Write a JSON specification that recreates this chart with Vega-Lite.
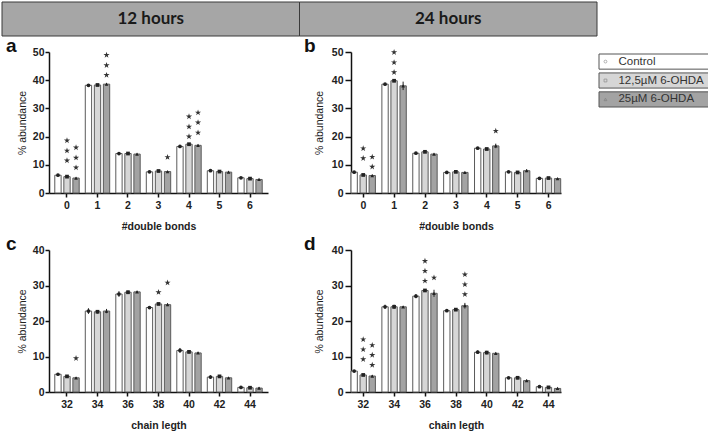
{
  "$schema": "https://vega.github.io/schema/vega-lite/v6.json",
  "padding": {"left": 1, "top": 1, "right": 0, "bottom": 0},
  "background": "white",
  "config": {
    "view": {"stroke": null},
    "font": "Liberation Sans",
    "axis": {"grid": false, "domainColor": "#111", "domainWidth": 1.5, "tickColor": "#111", "tickWidth": 1.5, "labelFont": "Liberation Sans", "labelFontWeight": "bold", "labelFontSize": 10.5, "labelColor": "#222", "titleFont": "Liberation Sans", "titleFontSize": 10.5, "titleColor": "#222", "labelOverlap": false},
    "axisX": {"labelAngle": 0, "tickSize": 4, "labelPadding": 3, "titleFontWeight": "bold", "titlePadding": 11},
    "axisY": {"tickSize": 4, "labelPadding": 1, "titleFontWeight": "normal", "titlePadding": 5},
    "title": {"font": "Liberation Sans", "fontSize": 19, "fontWeight": "bold", "color": "#111", "anchor": "start", "frame": "group", "baseline": "alphabetic", "offset": 0}
  },
  "datasets": {
    "a": [
      {"c": "0", "g": "Control", "v": 6.3, "lo": 6.1, "hi": 6.5},
      {"c": "0", "g": "12,5µM 6-OHDA", "v": 5.8, "lo": 5.6, "hi": 6.0},
      {"c": "0", "g": "25µM 6-OHDA", "v": 5.3, "lo": 5.1, "hi": 5.5},
      {"c": "1", "g": "Control", "v": 38.2, "lo": 37.9, "hi": 38.5},
      {"c": "1", "g": "12,5µM 6-OHDA", "v": 38.3, "lo": 38.0, "hi": 38.6},
      {"c": "1", "g": "25µM 6-OHDA", "v": 38.6, "lo": 38.2, "hi": 39.0},
      {"c": "2", "g": "Control", "v": 14.0, "lo": 13.8, "hi": 14.2},
      {"c": "2", "g": "12,5µM 6-OHDA", "v": 14.0, "lo": 13.7, "hi": 14.3},
      {"c": "2", "g": "25µM 6-OHDA", "v": 13.8, "lo": 13.6, "hi": 14.0},
      {"c": "3", "g": "Control", "v": 7.5, "lo": 7.3, "hi": 7.7},
      {"c": "3", "g": "12,5µM 6-OHDA", "v": 7.8, "lo": 7.5, "hi": 8.1},
      {"c": "3", "g": "25µM 6-OHDA", "v": 7.6, "lo": 7.4, "hi": 7.8},
      {"c": "4", "g": "Control", "v": 16.5, "lo": 16.2, "hi": 16.8},
      {"c": "4", "g": "12,5µM 6-OHDA", "v": 17.3, "lo": 16.9, "hi": 17.7},
      {"c": "4", "g": "25µM 6-OHDA", "v": 16.9, "lo": 16.6, "hi": 17.2},
      {"c": "5", "g": "Control", "v": 7.9, "lo": 7.6, "hi": 8.2},
      {"c": "5", "g": "12,5µM 6-OHDA", "v": 7.6, "lo": 7.3, "hi": 7.9},
      {"c": "5", "g": "25µM 6-OHDA", "v": 7.4, "lo": 7.2, "hi": 7.6},
      {"c": "6", "g": "Control", "v": 5.4, "lo": 5.1, "hi": 5.7},
      {"c": "6", "g": "12,5µM 6-OHDA", "v": 5.1, "lo": 4.9, "hi": 5.3},
      {"c": "6", "g": "25µM 6-OHDA", "v": 4.8, "lo": 4.6, "hi": 5.0}
    ],
    "sa": [
      {"c": "0", "g": "12,5µM 6-OHDA", "sy": 11.5}, {"c": "0", "g": "12,5µM 6-OHDA", "sy": 15.0}, {"c": "0", "g": "12,5µM 6-OHDA", "sy": 18.6},
      {"c": "0", "g": "25µM 6-OHDA", "sy": 9.0}, {"c": "0", "g": "25µM 6-OHDA", "sy": 12.5}, {"c": "0", "g": "25µM 6-OHDA", "sy": 16.1},
      {"c": "1", "g": "25µM 6-OHDA", "sy": 41.8}, {"c": "1", "g": "25µM 6-OHDA", "sy": 45.3}, {"c": "1", "g": "25µM 6-OHDA", "sy": 48.9},
      {"c": "3", "g": "25µM 6-OHDA", "sy": 12.7},
      {"c": "4", "g": "12,5µM 6-OHDA", "sy": 20.0}, {"c": "4", "g": "12,5µM 6-OHDA", "sy": 23.5}, {"c": "4", "g": "12,5µM 6-OHDA", "sy": 27.1},
      {"c": "4", "g": "25µM 6-OHDA", "sy": 21.4}, {"c": "4", "g": "25µM 6-OHDA", "sy": 25.0}, {"c": "4", "g": "25µM 6-OHDA", "sy": 28.5}
    ],
    "b": [
      {"c": "0", "g": "Control", "v": 7.4, "lo": 7.2, "hi": 7.6},
      {"c": "0", "g": "12,5µM 6-OHDA", "v": 6.4, "lo": 6.2, "hi": 6.6},
      {"c": "0", "g": "25µM 6-OHDA", "v": 6.2, "lo": 5.9, "hi": 6.5},
      {"c": "1", "g": "Control", "v": 38.6, "lo": 38.3, "hi": 38.9},
      {"c": "1", "g": "12,5µM 6-OHDA", "v": 39.8, "lo": 39.3, "hi": 40.3},
      {"c": "1", "g": "25µM 6-OHDA", "v": 38.0, "lo": 36.5, "hi": 39.5},
      {"c": "2", "g": "Control", "v": 14.1, "lo": 13.9, "hi": 14.3},
      {"c": "2", "g": "12,5µM 6-OHDA", "v": 14.6, "lo": 14.4, "hi": 14.8},
      {"c": "2", "g": "25µM 6-OHDA", "v": 13.8, "lo": 13.6, "hi": 14.0},
      {"c": "3", "g": "Control", "v": 7.3, "lo": 7.1, "hi": 7.5},
      {"c": "3", "g": "12,5µM 6-OHDA", "v": 7.5, "lo": 7.2, "hi": 7.8},
      {"c": "3", "g": "25µM 6-OHDA", "v": 7.3, "lo": 7.1, "hi": 7.5},
      {"c": "4", "g": "Control", "v": 15.9, "lo": 15.7, "hi": 16.1},
      {"c": "4", "g": "12,5µM 6-OHDA", "v": 15.6, "lo": 15.2, "hi": 16.0},
      {"c": "4", "g": "25µM 6-OHDA", "v": 16.7, "lo": 15.9, "hi": 17.5},
      {"c": "5", "g": "Control", "v": 7.5, "lo": 7.2, "hi": 7.8},
      {"c": "5", "g": "12,5µM 6-OHDA", "v": 7.3, "lo": 7.0, "hi": 7.6},
      {"c": "5", "g": "25µM 6-OHDA", "v": 7.9, "lo": 7.4, "hi": 8.4},
      {"c": "6", "g": "Control", "v": 5.2, "lo": 5.0, "hi": 5.4},
      {"c": "6", "g": "12,5µM 6-OHDA", "v": 5.3, "lo": 5.1, "hi": 5.5},
      {"c": "6", "g": "25µM 6-OHDA", "v": 5.1, "lo": 4.9, "hi": 5.3}
    ],
    "sb": [
      {"c": "0", "g": "12,5µM 6-OHDA", "sy": 12.3}, {"c": "0", "g": "12,5µM 6-OHDA", "sy": 15.8},
      {"c": "0", "g": "25µM 6-OHDA", "sy": 9.3}, {"c": "0", "g": "25µM 6-OHDA", "sy": 12.8},
      {"c": "1", "g": "12,5µM 6-OHDA", "sy": 42.8}, {"c": "1", "g": "12,5µM 6-OHDA", "sy": 46.3}, {"c": "1", "g": "12,5µM 6-OHDA", "sy": 49.9},
      {"c": "4", "g": "25µM 6-OHDA", "sy": 22.0}
    ],
    "c": [
      {"c": "32", "g": "Control", "v": 5.0, "lo": 4.8, "hi": 5.2},
      {"c": "32", "g": "12,5µM 6-OHDA", "v": 4.4, "lo": 4.2, "hi": 4.6},
      {"c": "32", "g": "25µM 6-OHDA", "v": 4.0, "lo": 3.8, "hi": 4.2},
      {"c": "34", "g": "Control", "v": 22.8, "lo": 22.0, "hi": 23.6},
      {"c": "34", "g": "12,5µM 6-OHDA", "v": 22.6, "lo": 22.1, "hi": 23.1},
      {"c": "34", "g": "25µM 6-OHDA", "v": 22.8, "lo": 22.2, "hi": 23.4},
      {"c": "36", "g": "Control", "v": 27.6, "lo": 26.8, "hi": 28.4},
      {"c": "36", "g": "12,5µM 6-OHDA", "v": 28.1, "lo": 27.6, "hi": 28.6},
      {"c": "36", "g": "25µM 6-OHDA", "v": 28.2, "lo": 27.9, "hi": 28.5},
      {"c": "38", "g": "Control", "v": 23.8, "lo": 23.6, "hi": 24.0},
      {"c": "38", "g": "12,5µM 6-OHDA", "v": 24.8, "lo": 24.6, "hi": 25.0},
      {"c": "38", "g": "25µM 6-OHDA", "v": 24.6, "lo": 24.2, "hi": 25.0},
      {"c": "40", "g": "Control", "v": 11.7, "lo": 11.0, "hi": 12.4},
      {"c": "40", "g": "12,5µM 6-OHDA", "v": 11.3, "lo": 10.8, "hi": 11.8},
      {"c": "40", "g": "25µM 6-OHDA", "v": 11.0, "lo": 10.7, "hi": 11.3},
      {"c": "42", "g": "Control", "v": 4.2, "lo": 3.7, "hi": 4.7},
      {"c": "42", "g": "12,5µM 6-OHDA", "v": 4.4, "lo": 4.1, "hi": 4.7},
      {"c": "42", "g": "25µM 6-OHDA", "v": 4.0, "lo": 3.8, "hi": 4.2},
      {"c": "44", "g": "Control", "v": 1.3, "lo": 1.0, "hi": 1.6},
      {"c": "44", "g": "12,5µM 6-OHDA", "v": 1.2, "lo": 0.9, "hi": 1.5},
      {"c": "44", "g": "25µM 6-OHDA", "v": 1.1, "lo": 0.8, "hi": 1.4}
    ],
    "sc": [
      {"c": "32", "g": "25µM 6-OHDA", "sy": 9.5},
      {"c": "38", "g": "12,5µM 6-OHDA", "sy": 28.1},
      {"c": "38", "g": "25µM 6-OHDA", "sy": 30.8}
    ],
    "d": [
      {"c": "32", "g": "Control", "v": 5.9, "lo": 5.7, "hi": 6.1},
      {"c": "32", "g": "12,5µM 6-OHDA", "v": 4.8, "lo": 4.6, "hi": 5.0},
      {"c": "32", "g": "25µM 6-OHDA", "v": 4.5, "lo": 4.2, "hi": 4.8},
      {"c": "34", "g": "Control", "v": 24.0, "lo": 23.4, "hi": 24.6},
      {"c": "34", "g": "12,5µM 6-OHDA", "v": 24.0, "lo": 23.4, "hi": 24.6},
      {"c": "34", "g": "25µM 6-OHDA", "v": 24.0, "lo": 23.8, "hi": 24.2},
      {"c": "36", "g": "Control", "v": 27.0, "lo": 26.4, "hi": 27.6},
      {"c": "36", "g": "12,5µM 6-OHDA", "v": 28.6, "lo": 28.2, "hi": 29.0},
      {"c": "36", "g": "25µM 6-OHDA", "v": 27.8, "lo": 26.8, "hi": 28.8},
      {"c": "38", "g": "Control", "v": 22.9, "lo": 22.7, "hi": 23.1},
      {"c": "38", "g": "12,5µM 6-OHDA", "v": 23.2, "lo": 22.8, "hi": 23.6},
      {"c": "38", "g": "25µM 6-OHDA", "v": 24.3, "lo": 23.5, "hi": 25.1},
      {"c": "40", "g": "Control", "v": 11.2, "lo": 10.7, "hi": 11.7},
      {"c": "40", "g": "12,5µM 6-OHDA", "v": 11.1, "lo": 10.6, "hi": 11.6},
      {"c": "40", "g": "25µM 6-OHDA", "v": 10.9, "lo": 10.7, "hi": 11.1},
      {"c": "42", "g": "Control", "v": 4.0, "lo": 3.7, "hi": 4.3},
      {"c": "42", "g": "12,5µM 6-OHDA", "v": 4.0, "lo": 3.6, "hi": 4.4},
      {"c": "42", "g": "25µM 6-OHDA", "v": 3.2, "lo": 2.9, "hi": 3.5},
      {"c": "44", "g": "Control", "v": 1.5, "lo": 1.2, "hi": 1.8},
      {"c": "44", "g": "12,5µM 6-OHDA", "v": 1.3, "lo": 1.0, "hi": 1.6},
      {"c": "44", "g": "25µM 6-OHDA", "v": 1.0, "lo": 0.8, "hi": 1.2}
    ],
    "sd": [
      {"c": "32", "g": "12,5µM 6-OHDA", "sy": 9.2}, {"c": "32", "g": "12,5µM 6-OHDA", "sy": 12.0}, {"c": "32", "g": "12,5µM 6-OHDA", "sy": 14.8},
      {"c": "32", "g": "25µM 6-OHDA", "sy": 7.6}, {"c": "32", "g": "25µM 6-OHDA", "sy": 10.4}, {"c": "32", "g": "25µM 6-OHDA", "sy": 13.2},
      {"c": "36", "g": "12,5µM 6-OHDA", "sy": 31.3}, {"c": "36", "g": "12,5µM 6-OHDA", "sy": 34.1}, {"c": "36", "g": "12,5µM 6-OHDA", "sy": 36.9},
      {"c": "36", "g": "25µM 6-OHDA", "sy": 32.2},
      {"c": "38", "g": "25µM 6-OHDA", "sy": 27.5}, {"c": "38", "g": "25µM 6-OHDA", "sy": 30.3}, {"c": "38", "g": "25µM 6-OHDA", "sy": 33.1}
    ],
    "hdr": [{"h": "12 hours"}, {"h": "24 hours"}],
    "leg": [{"g": "Control"}, {"g": "12,5µM 6-OHDA"}, {"g": "25µM 6-OHDA"}]
  },
  "spacing": 0,
  "vconcat": [
    {
      "width": 548, "height": 34,
      "data": {"name": "hdr"},
      "encoding": {"x": {"field": "h", "type": "nominal", "sort": null, "scale": {"range": [-47, 548], "paddingInner": 0, "paddingOuter": 0}, "axis": null}},
      "layer": [
        {"mark": {"type": "rect", "fill": "#a6a6a6", "stroke": "#3a3a3a", "strokeWidth": 1}, "encoding": {}},
        {"mark": {"type": "text", "font": "Lato", "fontWeight": "bold", "fontSize": 17, "color": "#1a1a1a"}, "encoding": {"text": {"field": "h"}}}
      ]
    },
    {
      "spacing": 3,
      "vconcat": [
        {
          "spacing": 36,
          "hconcat": [
            {
              "width": 219, "height": 141,
              "title": {"text": "a", "dx": -43, "dy": 13},
              "encoding": {
                "x": {"field": "c", "type": "ordinal", "scale": {"domain": ["0", "1", "2", "3", "4", "5", "6"], "paddingInner": 0.2, "paddingOuter": 0.19}, "axis": {"title": "#double bonds"}},
                "xOffset": {"field": "g", "type": "nominal", "scale": {"domain": ["Control", "12,5µM 6-OHDA", "25µM 6-OHDA"], "paddingInner": 0.3, "paddingOuter": 0}}
              },
              "layer": [
                {"data": {"name": "a"}, "mark": {"type": "bar", "stroke": "#5a5a5a", "strokeWidth": 1},
                 "encoding": {"y": {"field": "v", "type": "quantitative", "scale": {"domain": [0, 50]}, "axis": {"title": "% abundance", "values": [0, 10, 20, 30, 40, 50]}},
                   "fill": {"field": "g", "type": "nominal", "scale": {"domain": ["Control", "12,5µM 6-OHDA", "25µM 6-OHDA"], "range": ["#ffffff", "#d6d6d6", "#a3a3a3"]}, "legend": null}}},
                {"data": {"name": "a"}, "mark": {"type": "rule", "color": "#222", "strokeWidth": 1}, "encoding": {"y": {"field": "lo", "type": "quantitative", "axis": {"title": "% abundance", "values": [0, 10, 20, 30, 40, 50]}}, "y2": {"field": "hi"}}},
                {"data": {"name": "a"}, "mark": {"type": "point", "filled": true, "size": 14, "color": "#222", "opacity": 1},
                 "encoding": {"y": {"field": "v", "type": "quantitative", "axis": {"title": "% abundance", "values": [0, 10, 20, 30, 40, 50]}}, "shape": {"field": "g", "type": "nominal", "scale": {"domain": ["Control", "12,5µM 6-OHDA", "25µM 6-OHDA"], "range": ["circle", "square", "triangle-up"]}, "legend": null}}},
                {"data": {"name": "sa"}, "mark": {"type": "point", "filled": true, "size": 42, "color": "#333", "opacity": 1, "shape": "M0,-1L0.2245,-0.309L0.951,-0.309L0.363,0.118L0.588,0.809L0,0.382L-0.588,0.809L-0.363,0.118L-0.951,-0.309L-0.2245,-0.309Z"},
                 "encoding": {"y": {"field": "sy", "type": "quantitative", "axis": {"title": "% abundance", "values": [0, 10, 20, 30, 40, 50]}}}}
              ]
            },
            {
              "width": 210, "height": 141,
              "title": {"text": "b", "dx": -47, "dy": 13},
              "encoding": {
                "x": {"field": "c", "type": "ordinal", "scale": {"domain": ["0", "1", "2", "3", "4", "5", "6"], "paddingInner": 0.2, "paddingOuter": 0}, "axis": {"title": "#double bonds"}},
                "xOffset": {"field": "g", "type": "nominal", "scale": {"domain": ["Control", "12,5µM 6-OHDA", "25µM 6-OHDA"], "paddingInner": 0.3, "paddingOuter": 0}}
              },
              "layer": [
                {"data": {"name": "b"}, "mark": {"type": "bar", "stroke": "#5a5a5a", "strokeWidth": 1},
                 "encoding": {"y": {"field": "v", "type": "quantitative", "scale": {"domain": [0, 50]}, "axis": {"title": "% abundance", "values": [0, 10, 20, 30, 40, 50], "tickSize": 6, "labelPadding": 2, "titlePadding": 7}},
                   "fill": {"field": "g", "type": "nominal", "scale": {"domain": ["Control", "12,5µM 6-OHDA", "25µM 6-OHDA"], "range": ["#ffffff", "#d6d6d6", "#a3a3a3"]}, "legend": null}}},
                {"data": {"name": "b"}, "mark": {"type": "rule", "color": "#222", "strokeWidth": 1}, "encoding": {"y": {"field": "lo", "type": "quantitative", "axis": {"title": "% abundance", "values": [0, 10, 20, 30, 40, 50], "tickSize": 6, "labelPadding": 2, "titlePadding": 7}}, "y2": {"field": "hi"}}},
                {"data": {"name": "b"}, "mark": {"type": "point", "filled": true, "size": 14, "color": "#222", "opacity": 1},
                 "encoding": {"y": {"field": "v", "type": "quantitative", "axis": {"title": "% abundance", "values": [0, 10, 20, 30, 40, 50], "tickSize": 6, "labelPadding": 2, "titlePadding": 7}}, "shape": {"field": "g", "type": "nominal", "scale": {"domain": ["Control", "12,5µM 6-OHDA", "25µM 6-OHDA"], "range": ["circle", "square", "triangle-up"]}, "legend": null}}},
                {"data": {"name": "sb"}, "mark": {"type": "point", "filled": true, "size": 42, "color": "#333", "opacity": 1, "shape": "M0,-1L0.2245,-0.309L0.951,-0.309L0.363,0.118L0.588,0.809L0,0.382L-0.588,0.809L-0.363,0.118L-0.951,-0.309L-0.2245,-0.309Z"},
                 "encoding": {"y": {"field": "sy", "type": "quantitative", "axis": {"title": "% abundance", "values": [0, 10, 20, 30, 40, 50], "tickSize": 6, "labelPadding": 2, "titlePadding": 7}}}}
              ]
            },
            {
              "width": 111, "height": 55,
              "data": {"name": "leg"},
              "encoding": {"y": {"field": "g", "type": "nominal", "sort": ["Control", "12,5µM 6-OHDA", "25µM 6-OHDA"], "scale": {"range": [2, 55], "paddingInner": 0.2, "paddingOuter": 0}, "axis": null}},
              "layer": [
                {"mark": {"type": "rect", "stroke": "#555", "strokeWidth": 1},
                 "encoding": {"fill": {"field": "g", "type": "nominal", "scale": {"domain": ["Control", "12,5µM 6-OHDA", "25µM 6-OHDA"], "range": ["#ffffff", "#d6d6d6", "#a3a3a3"]}, "legend": null}}},
                {"mark": {"type": "point", "size": 8, "strokeWidth": 0.8, "color": "#777"},
                 "encoding": {"x": {"datum": 7, "type": "quantitative", "scale": {"domain": [0, 111], "range": [0, 111]}, "axis": null},
                   "shape": {"field": "g", "type": "nominal", "scale": {"domain": ["Control", "12,5µM 6-OHDA", "25µM 6-OHDA"], "range": ["circle", "square", "triangle-up"]}, "legend": null}}},
                {"mark": {"type": "text", "align": "left", "font": "Liberation Sans", "fontSize": 11.5, "color": "#333"},
                 "encoding": {"x": {"datum": 21, "type": "quantitative"}, "text": {"field": "g"}}}
              ]
            }
          ]
        },
        {
          "spacing": 36,
          "hconcat": [
            {
              "width": 219, "height": 142,
              "title": {"text": "c", "dx": -43, "dy": 13},
              "encoding": {
                "x": {"field": "c", "type": "ordinal", "scale": {"domain": ["32", "34", "36", "38", "40", "42", "44"], "paddingInner": 0.2, "paddingOuter": 0.19}, "axis": {"title": "chain legth"}},
                "xOffset": {"field": "g", "type": "nominal", "scale": {"domain": ["Control", "12,5µM 6-OHDA", "25µM 6-OHDA"], "paddingInner": 0.3, "paddingOuter": 0}}
              },
              "layer": [
                {"data": {"name": "c"}, "mark": {"type": "bar", "stroke": "#5a5a5a", "strokeWidth": 1},
                 "encoding": {"y": {"field": "v", "type": "quantitative", "scale": {"domain": [0, 40]}, "axis": {"title": "% abundance", "values": [0, 10, 20, 30, 40]}},
                   "fill": {"field": "g", "type": "nominal", "scale": {"domain": ["Control", "12,5µM 6-OHDA", "25µM 6-OHDA"], "range": ["#ffffff", "#d6d6d6", "#a3a3a3"]}, "legend": null}}},
                {"data": {"name": "c"}, "mark": {"type": "rule", "color": "#222", "strokeWidth": 1}, "encoding": {"y": {"field": "lo", "type": "quantitative", "axis": {"title": "% abundance", "values": [0, 10, 20, 30, 40]}}, "y2": {"field": "hi"}}},
                {"data": {"name": "c"}, "mark": {"type": "point", "filled": true, "size": 14, "color": "#222", "opacity": 1},
                 "encoding": {"y": {"field": "v", "type": "quantitative", "axis": {"title": "% abundance", "values": [0, 10, 20, 30, 40]}}, "shape": {"field": "g", "type": "nominal", "scale": {"domain": ["Control", "12,5µM 6-OHDA", "25µM 6-OHDA"], "range": ["circle", "square", "triangle-up"]}, "legend": null}}},
                {"data": {"name": "sc"}, "mark": {"type": "point", "filled": true, "size": 42, "color": "#333", "opacity": 1, "shape": "M0,-1L0.2245,-0.309L0.951,-0.309L0.363,0.118L0.588,0.809L0,0.382L-0.588,0.809L-0.363,0.118L-0.951,-0.309L-0.2245,-0.309Z"},
                 "encoding": {"y": {"field": "sy", "type": "quantitative", "axis": {"title": "% abundance", "values": [0, 10, 20, 30, 40]}}}}
              ]
            },
            {
              "width": 210, "height": 142,
              "title": {"text": "d", "dx": -47, "dy": 13},
              "encoding": {
                "x": {"field": "c", "type": "ordinal", "scale": {"domain": ["32", "34", "36", "38", "40", "42", "44"], "paddingInner": 0.2, "paddingOuter": 0}, "axis": {"title": "chain legth"}},
                "xOffset": {"field": "g", "type": "nominal", "scale": {"domain": ["Control", "12,5µM 6-OHDA", "25µM 6-OHDA"], "paddingInner": 0.3, "paddingOuter": 0}}
              },
              "layer": [
                {"data": {"name": "d"}, "mark": {"type": "bar", "stroke": "#5a5a5a", "strokeWidth": 1},
                 "encoding": {"y": {"field": "v", "type": "quantitative", "scale": {"domain": [0, 40]}, "axis": {"title": "% abundance", "values": [0, 10, 20, 30, 40], "tickSize": 6, "labelPadding": 2, "titlePadding": 7}},
                   "fill": {"field": "g", "type": "nominal", "scale": {"domain": ["Control", "12,5µM 6-OHDA", "25µM 6-OHDA"], "range": ["#ffffff", "#d6d6d6", "#a3a3a3"]}, "legend": null}}},
                {"data": {"name": "d"}, "mark": {"type": "rule", "color": "#222", "strokeWidth": 1}, "encoding": {"y": {"field": "lo", "type": "quantitative", "axis": {"title": "% abundance", "values": [0, 10, 20, 30, 40], "tickSize": 6, "labelPadding": 2, "titlePadding": 7}}, "y2": {"field": "hi"}}},
                {"data": {"name": "d"}, "mark": {"type": "point", "filled": true, "size": 14, "color": "#222", "opacity": 1},
                 "encoding": {"y": {"field": "v", "type": "quantitative", "axis": {"title": "% abundance", "values": [0, 10, 20, 30, 40], "tickSize": 6, "labelPadding": 2, "titlePadding": 7}}, "shape": {"field": "g", "type": "nominal", "scale": {"domain": ["Control", "12,5µM 6-OHDA", "25µM 6-OHDA"], "range": ["circle", "square", "triangle-up"]}, "legend": null}}},
                {"data": {"name": "sd"}, "mark": {"type": "point", "filled": true, "size": 42, "color": "#333", "opacity": 1, "shape": "M0,-1L0.2245,-0.309L0.951,-0.309L0.363,0.118L0.588,0.809L0,0.382L-0.588,0.809L-0.363,0.118L-0.951,-0.309L-0.2245,-0.309Z"},
                 "encoding": {"y": {"field": "sy", "type": "quantitative", "axis": {"title": "% abundance", "values": [0, 10, 20, 30, 40], "tickSize": 6, "labelPadding": 2, "titlePadding": 7}}}}
              ]
            }
          ]
        }
      ]
    }
  ]
}
